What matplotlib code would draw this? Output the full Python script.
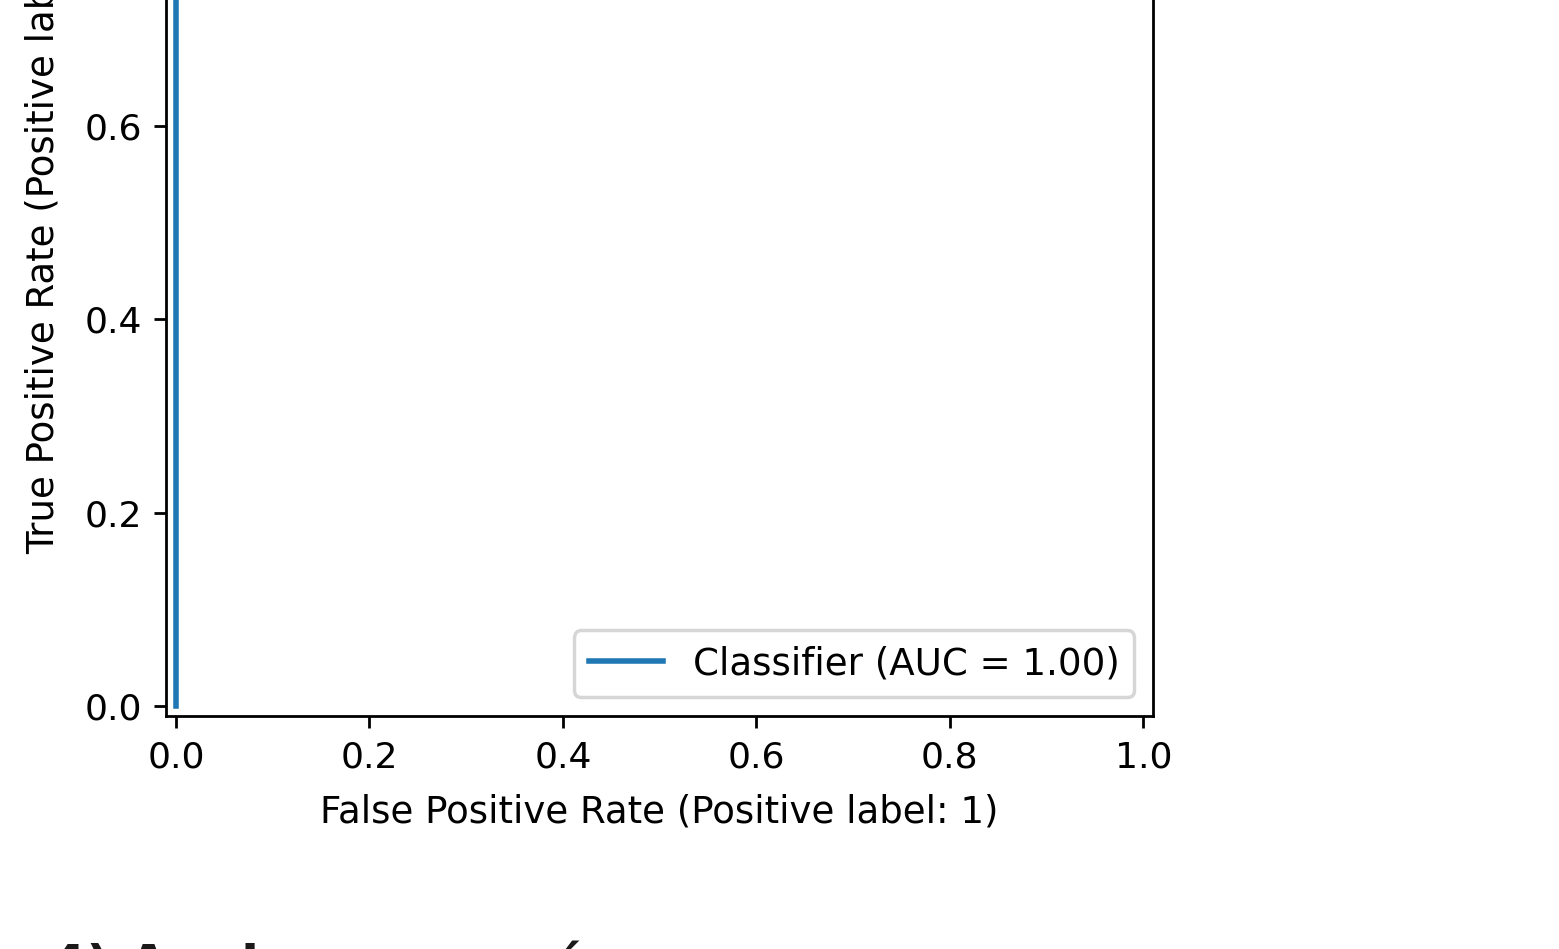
import matplotlib
matplotlib.use("Agg")
import matplotlib.pyplot as plt

fpr = [0.0, 0.0, 1.0]
tpr = [0.0, 1.0, 1.0]
auc_value = 1.00
series_label = "Classifier (AUC = %.2f)" % auc_value
xlabel = "False Positive Rate (Positive label: 1)"
ylabel = "True Positive Rate (Positive label: 1)"
ticks = [0.0, 0.2, 0.4, 0.6, 0.8, 1.0]
heading = "4) Analyse avancée"

plt.rcParams["font.size"] = 10.7
plt.rcParams["xtick.labelsize"] = 10.4
plt.rcParams["ytick.labelsize"] = 10.4

DPI = 250
W, H = 1559, 949
fig = plt.figure(figsize=(W / DPI, H / DPI), dpi=DPI)
left, right = 166.3, 1153.0
bottom_px, top_px = 715.7, -271.0
ax = fig.add_axes([left / W, (H - bottom_px) / H, (right - left) / W, (bottom_px - top_px) / H])
ax.plot(fpr, tpr, label=series_label, lw=1.6)
ax.set_xlim(-0.01, 1.01)
ax.set_ylim(-0.01, 1.01)
ax.set_xticks(ticks)
ax.set_yticks(ticks)
ax.set_xlabel(xlabel, labelpad=5.5)
ax.set_ylabel(ylabel, labelpad=6.5)
ax.legend(loc="lower right")

fig.text(49.5 / W, 1 - 982 / H, heading, fontsize=15, fontweight="bold",
         va="baseline", ha="left", color="#1a1a1a")

fig.savefig("out.png", dpi=DPI)
